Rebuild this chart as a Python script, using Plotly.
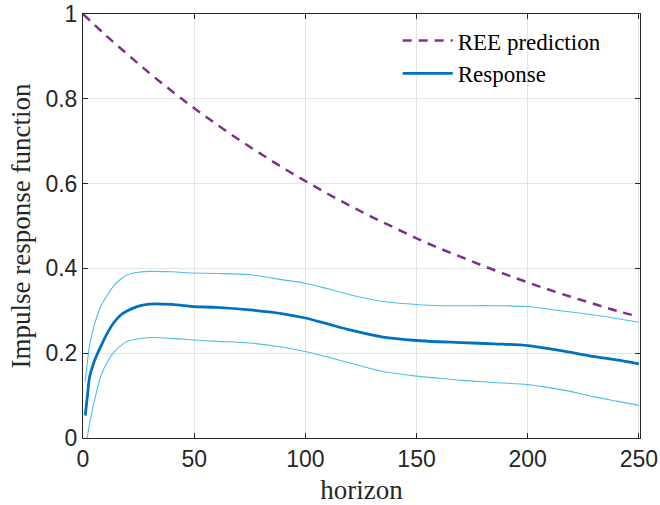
import plotly.graph_objects as go

# ---- data ----
ree_h = [0, 10, 20, 30, 40, 50, 60, 70, 80, 90, 100, 110, 120, 130, 140, 150,
         160, 170, 180, 190, 200, 210, 220, 230, 240, 250]
ree_v = [1.0, 0.951, 0.905, 0.860, 0.818, 0.778, 0.740, 0.704, 0.670, 0.637,
         0.606, 0.576, 0.548, 0.521, 0.496, 0.471, 0.448, 0.427, 0.406, 0.386,
         0.367, 0.349, 0.332, 0.316, 0.300, 0.286]

resp_h = [1, 2, 3, 5, 8, 11, 14, 17, 20, 25, 30, 40, 50, 60, 75, 90, 100, 110,
          120, 135, 150, 160, 170, 185, 200, 215, 230, 240, 250]
resp_v = [0.053, 0.100, 0.145, 0.180, 0.216, 0.248, 0.273, 0.290, 0.300, 0.311,
          0.316, 0.315, 0.310, 0.308, 0.302, 0.293, 0.283, 0.269, 0.255, 0.238,
          0.230, 0.227, 0.225, 0.222, 0.218, 0.206, 0.192, 0.184, 0.175]
upper_v = [0.133, 0.180, 0.220, 0.265, 0.310, 0.338, 0.360, 0.375, 0.385, 0.391,
           0.393, 0.392, 0.389, 0.388, 0.385, 0.373, 0.365, 0.352, 0.338, 0.322,
           0.315, 0.312, 0.312, 0.312, 0.310, 0.300, 0.290, 0.282, 0.273]
lower_v = [-0.025, 0.005, 0.035, 0.085, 0.145, 0.180, 0.203, 0.218, 0.228, 0.234,
           0.237, 0.235, 0.231, 0.228, 0.224, 0.214, 0.204, 0.191, 0.177, 0.157,
           0.146, 0.141, 0.136, 0.131, 0.126, 0.114, 0.097, 0.087, 0.077]

x_ticks = [0, 50, 100, 150, 200, 250]
y_ticks = [0, 0.2, 0.4, 0.6, 0.8, 1]
y_ticklabels = ["0", "0.2", "0.4", "0.6", "0.8", "1"]

fig = go.Figure()
fig.add_trace(go.Scatter(x=ree_h, y=ree_v, mode="lines", name="REE prediction",
                         line=dict(color="#7E2F8E", width=2.5, dash="9px,7px", shape="spline")))
fig.add_trace(go.Scatter(x=resp_h, y=resp_v, mode="lines", name="Response",
                         line=dict(color="#0072BD", width=2.8, shape="spline", smoothing=0.8)))
fig.add_trace(go.Scatter(x=resp_h, y=upper_v, mode="lines", showlegend=False,
                         line=dict(color="#4DBEEE", width=1.1, shape="spline", smoothing=0.8)))
fig.add_trace(go.Scatter(x=resp_h, y=lower_v, mode="lines", showlegend=False,
                         line=dict(color="#4DBEEE", width=1.1, shape="spline", smoothing=0.8)))

axis_common = dict(
    showline=True, linecolor="#262626", linewidth=1, mirror="ticks",
    ticks="inside", ticklen=5, tickcolor="#262626",
    showgrid=True, gridcolor="#E3E3E3", gridwidth=1, zeroline=False,
    automargin=False, ticklabeloverflow="allow",
    tickfont=dict(family="Liberation Sans, Arial, sans-serif", size=23, color="#262626"),
)

fig.update_xaxes(range=[0, 250.5], tickvals=x_ticks,
                 title=dict(text="horizon", standoff=9,
                            font=dict(family="Liberation Serif, serif", size=27, color="#262626")),
                 **axis_common)
fig.update_yaxes(range=[0, 1], tickvals=y_ticks, ticktext=y_ticklabels,
                 title=dict(text="Impulse response function", standoff=6,
                            font=dict(family="Liberation Serif, serif", size=27, color="#262626")),
                 **axis_common)

fig.update_layout(
    width=660, height=505,
    margin=dict(l=83, r=20, t=14, b=67),
    paper_bgcolor="white", plot_bgcolor="white",
    legend=dict(x=0.565, y=0.988, xanchor="left", yanchor="top",
                bgcolor="rgba(255,255,255,0)", borderwidth=0,
                font=dict(family="Liberation Serif, serif", size=23, color="#000000"),
                itemwidth=50, tracegroupgap=0),
)

fig.write_html("out.html", config={"displayModeBar": False},
               post_script="document.body.style.margin='0px';")
